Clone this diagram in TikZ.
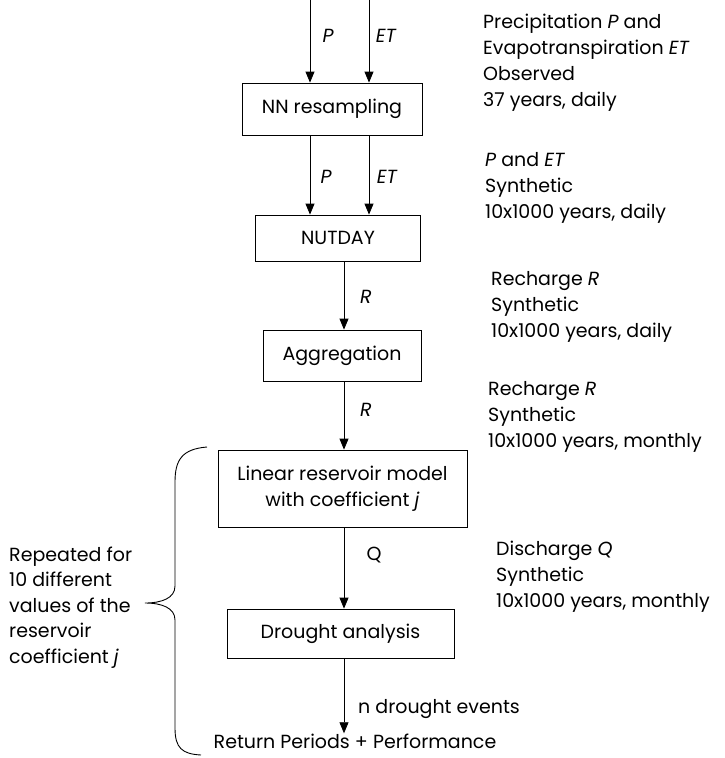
\documentclass[tikz,border=0pt]{standalone}
\usepackage{fontspec}
\setmainfont{Poppins}
\usetikzlibrary{arrows.meta,positioning}

\begin{document}
\begin{tikzpicture}[x=1pt,y=-1pt,
		box/.style={draw,line width=0.8pt,inner sep=0pt,font=\fontsize{19}{26}\selectfont,align=center},
		flow/.style={-{Triangle[length=11pt,width=9pt]},line width=0.8pt},
		lbl/.style={font=\fontsize{19}{26}\selectfont\itshape,inner sep=0pt},
		note/.style={anchor=base west,align=left,inner sep=0pt,font=\fontsize{19}{26}\selectfont}]
		\useasboundingbox (0,0) rectangle (724,758);
		% boxes
		\node[box,minimum width=180pt,minimum height=52pt] (nn) at (332,109) {NN resampling};
		\node[box,minimum width=165pt,minimum height=46pt] (nutday) at (338,238) {NUTDAY};
		\node[box,minimum width=158pt,minimum height=51pt] (agg) at (342,355.5) {Aggregation};
		\node[box,minimum width=249pt,minimum height=77pt] (lin) at (342.5,488.5) {Linear reservoir model\\with coefficient \textit{j}};
		\node[box,minimum width=227pt,minimum height=49pt] (dry) at (340.5,633.5) {Drought analysis};
		\node[anchor=base,inner sep=0pt,font=\fontsize{19}{26}\selectfont] (ret) at (355,748) {Return Periods + Performance};
		% arrows
		\coordinate (pin) at (310,0);
		\coordinate (etin) at (369,0);
		\coordinate (ax) at (344,0);
		\draw[flow] (pin) -- (nn.north -| pin);
		\draw[flow] (etin) -- (nn.north -| etin);
		\draw[flow] (nn.south -| pin) -- (nutday.north -| pin);
		\draw[flow] (nn.south -| etin) -- (nutday.north -| etin);
		\draw[flow] (nutday.south -| ax) -- (agg.north -| ax);
		\draw[flow] (agg.south -| ax) -- (lin.north -| ax);
		\draw[flow] (lin.south -| ax) -- (dry.north -| ax);
		\draw[flow] (dry.south -| ax) -- (ret.north -| ax);
		% arrow labels
		\node[lbl] (p1) at (328,36) {P};
		\node[lbl] (et1) at (386,36) {ET};
		\node[lbl] (p2) at (326,177) {P};
		\node[lbl] (et2) at (387,177) {ET};
		\node[lbl] (r1) at (366,297) {R};
		\node[lbl] (r2) at (366,410) {R};
		\node[lbl,font=\fontsize{19}{26}\selectfont] (q) at (374,555) {Q};
		\node[note] (nev) at (358,713) {n drought events};
		% notes on the right (anchored at the last line)
		\node[note] (obs) at (483,106) {Precipitation \textit{P} and\\Evapotranspiration \textit{ET}\\Observed\\37 years, daily};
		\node[note] (syn) at (485,218) {\textit{P} and \textit{ET}\\Synthetic\\10x1000 years, daily};
		\node[note] (rday) at (491,337) {Recharge \textit{R}\\Synthetic\\10x1000 years, daily};
		\node[note] (rmon) at (488,447) {Recharge \textit{R}\\Synthetic\\10x1000 years, monthly};
		\node[note] (qmon) at (496,607) {Discharge \textit{Q}\\Synthetic\\10x1000 years, monthly};
		% brace and repeat note
		\node[note,font=\fontsize{19}{25.5}\selectfont] (rep) at (9,663) {Repeated for\\10 different\\values of the\\reservoir\\coefficient \textit{j}};
		\draw[line width=0.9pt] (207,447) .. controls (182,449) and (175,460) .. (175,482) -- (175,586)
			.. controls (175,598) and (162,603) .. (145,603)
			.. controls (162,603) and (175,608) .. (175,620) -- (175,728)
			.. controls (175,748) and (182,754) .. (201,755);
	\end{tikzpicture}
\end{document}
